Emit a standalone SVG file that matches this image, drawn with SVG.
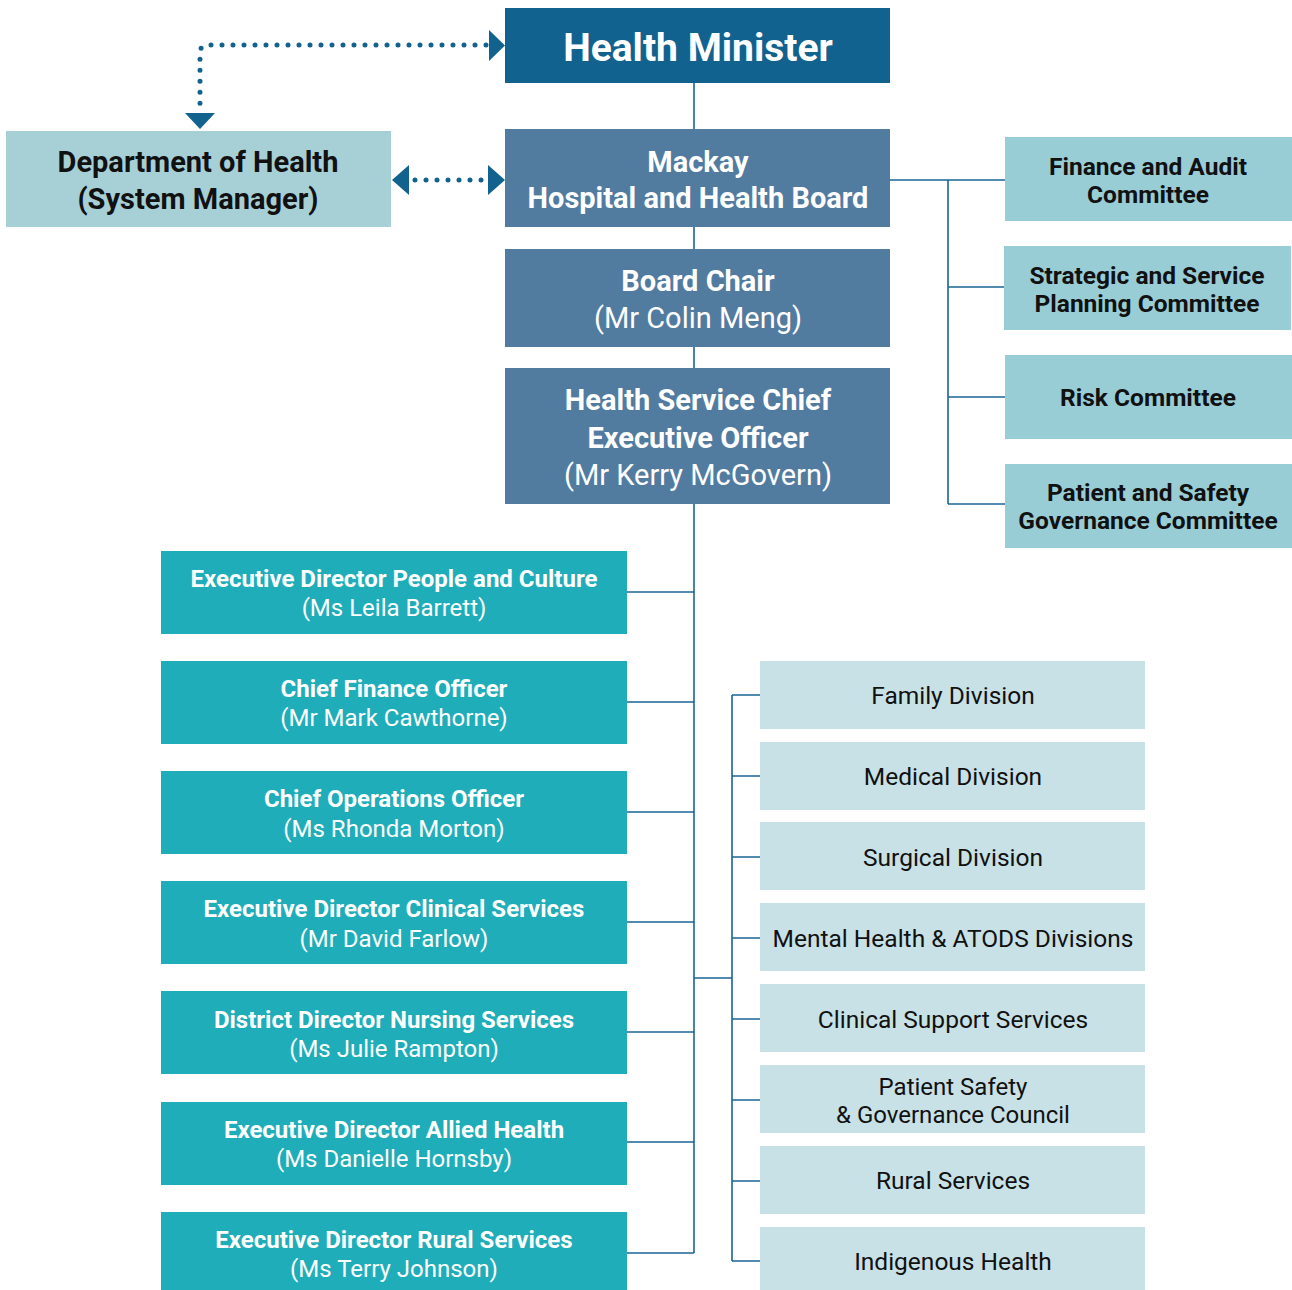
<svg xmlns="http://www.w3.org/2000/svg" width="1292" height="1290" viewBox="0 0 1292 1290">
<style>
text{font-family:Roboto,"Liberation Sans",sans-serif;text-anchor:middle}
.w{fill:#fff}.k{fill:#111}
.b{font-weight:700}
.top{fill:#12628F}.mid{fill:#527BA0}.dept{fill:#A7CFD6}.com{fill:#99CDD6}.exe{fill:#1EADB9}.div{fill:#C8E1E6}
.ln{fill:none;stroke:#1A6496;stroke-width:1.6}
.dot{fill:none;stroke:#12628F;stroke-width:5;stroke-linecap:round;stroke-dasharray:0 11}
.ah{fill:#12628F}
.f38{font-size:39px}.f28{font-size:29px}.f24{font-size:24.5px}.f22{font-size:24px}.f23{font-size:24.5px}.f23s{font-size:24px}
</style>
<g id="connectors">
<path class="ln" d="M694 83V1253M890 180H1005M948 180V504M948 287H1004M948 397H1005M948 504H1005"/>
<path class="ln" d="M627 592H694M627 702H694M627 812H694M627 922H694M627 1032H694M627 1142H694M627 1253H694"/>
<path class="ln" d="M694 978H732M732 695V1261M732 695H760M732 776H760M732 857H760M732 938H760M732 1019H760M732 1100H760M732 1181H760M732 1261H760"/>
<path class="dot" d="M486 45H208Q200 45 200 53V110"/>
<path class="ah" d="M489 30L505 45.5L489 61Z"/>
<path class="ah" d="M185 113H215L200 129Z"/>
<path class="dot" d="M415 180H486"/>
<path class="ah" d="M409 165L392 180L409 195Z"/>
<path class="ah" d="M488 165L505 180L488 195Z"/>
</g>
<g id="health-minister"><rect class="top" x="505" y="8" width="385" height="75"/><text class="w b f38" x="698" y="61">Health Minister</text></g>
<g id="department"><rect class="dept" x="6" y="131" width="385" height="96"/><text class="k b f28" x="198" y="172">Department of Health</text><text class="k b f28" x="198" y="209">(System Manager)</text></g>
<g id="board"><rect class="mid" x="505" y="129" width="385" height="98"/><text class="w b f28" x="698" y="172">Mackay</text><text class="w b f28" x="698" y="208">Hospital and Health Board</text></g>
<g id="board-chair"><rect class="mid" x="505" y="249" width="385" height="98"/><text class="w b f28" x="698" y="291">Board Chair</text><text class="w f28" x="698" y="328">(Mr Colin Meng)</text></g>
<g id="ceo"><rect class="mid" x="505" y="368" width="385" height="136"/><text class="w b f28" x="698" y="410">Health Service Chief</text><text class="w b f28" x="698" y="448">Executive Officer</text><text class="w f28" x="698" y="485">(Mr Kerry McGovern)</text></g>
<g id="finance"><rect class="com" x="1005" y="137" width="287" height="84"/><text class="k b f24" x="1148" y="175">Finance and Audit</text><text class="k b f24" x="1148" y="203">Committee</text></g>
<g id="strategic"><rect class="com" x="1004" y="246" width="287" height="84"/><text class="k b f24" x="1147" y="284">Strategic and Service</text><text class="k b f24" x="1147" y="312">Planning Committee</text></g>
<g id="risk"><rect class="com" x="1005" y="355" width="287" height="84"/><text class="k b f24" x="1148" y="406">Risk Committee</text></g>
<g id="patient-safety-gov"><rect class="com" x="1005" y="464" width="287" height="84"/><text class="k b f24" x="1148" y="501">Patient and Safety</text><text class="k b f24" x="1148" y="529">Governance Committee</text></g>
<g id="ed-people"><rect class="exe" x="161" y="551" width="466" height="83"/><text class="w b f22" x="394" y="587">Executive Director People and Culture</text><text class="w f22" x="394" y="616">(Ms Leila Barrett)</text></g>
<g id="cfo"><rect class="exe" x="161" y="661" width="466" height="83"/><text class="w b f22" x="394" y="697">Chief Finance Officer</text><text class="w f22" x="394" y="726">(Mr Mark Cawthorne)</text></g>
<g id="coo"><rect class="exe" x="161" y="771" width="466" height="83"/><text class="w b f22" x="394" y="807">Chief Operations Officer</text><text class="w f22" x="394" y="837">(Ms Rhonda Morton)</text></g>
<g id="ed-clinical"><rect class="exe" x="161" y="881" width="466" height="83"/><text class="w b f22" x="394" y="917">Executive Director Clinical Services</text><text class="w f22" x="394" y="947">(Mr David Farlow)</text></g>
<g id="dd-nursing"><rect class="exe" x="161" y="991" width="466" height="83"/><text class="w b f22" x="394" y="1028">District Director Nursing Services</text><text class="w f22" x="394" y="1057">(Ms Julie Rampton)</text></g>
<g id="ed-allied"><rect class="exe" x="161" y="1102" width="466" height="83"/><text class="w b f22" x="394" y="1138">Executive Director Allied Health</text><text class="w f22" x="394" y="1167">(Ms Danielle Hornsby)</text></g>
<g id="ed-rural"><rect class="exe" x="161" y="1212" width="466" height="78"/><text class="w b f22" x="394" y="1248">Executive Director Rural Services</text><text class="w f22" x="394" y="1277">(Ms Terry Johnson)</text></g>
<g id="family"><rect class="div" x="760" y="661" width="385" height="68"/><text class="k f23" x="953" y="704">Family Division</text></g>
<g id="medical"><rect class="div" x="760" y="742" width="385" height="68"/><text class="k f23" x="953" y="785">Medical Division</text></g>
<g id="surgical"><rect class="div" x="760" y="822" width="385" height="68"/><text class="k f23" x="953" y="866">Surgical Division</text></g>
<g id="mental"><rect class="div" x="760" y="903" width="385" height="68"/><text class="k f23" x="953" y="947">Mental Health &amp; ATODS Divisions</text></g>
<g id="clinical-support"><rect class="div" x="760" y="984" width="385" height="68"/><text class="k f23" x="953" y="1028">Clinical Support Services</text></g>
<g id="patient-safety-council"><rect class="div" x="760" y="1065" width="385" height="68"/><text class="k f23s" x="953" y="1095">Patient Safety</text><text class="k f23s" x="953" y="1123">&amp; Governance Council</text></g>
<g id="rural"><rect class="div" x="760" y="1146" width="385" height="68"/><text class="k f23" x="953" y="1189">Rural Services</text></g>
<g id="indigenous"><rect class="div" x="760" y="1227" width="385" height="63"/><text class="k f23" x="953" y="1270">Indigenous Health</text></g>
</svg>
